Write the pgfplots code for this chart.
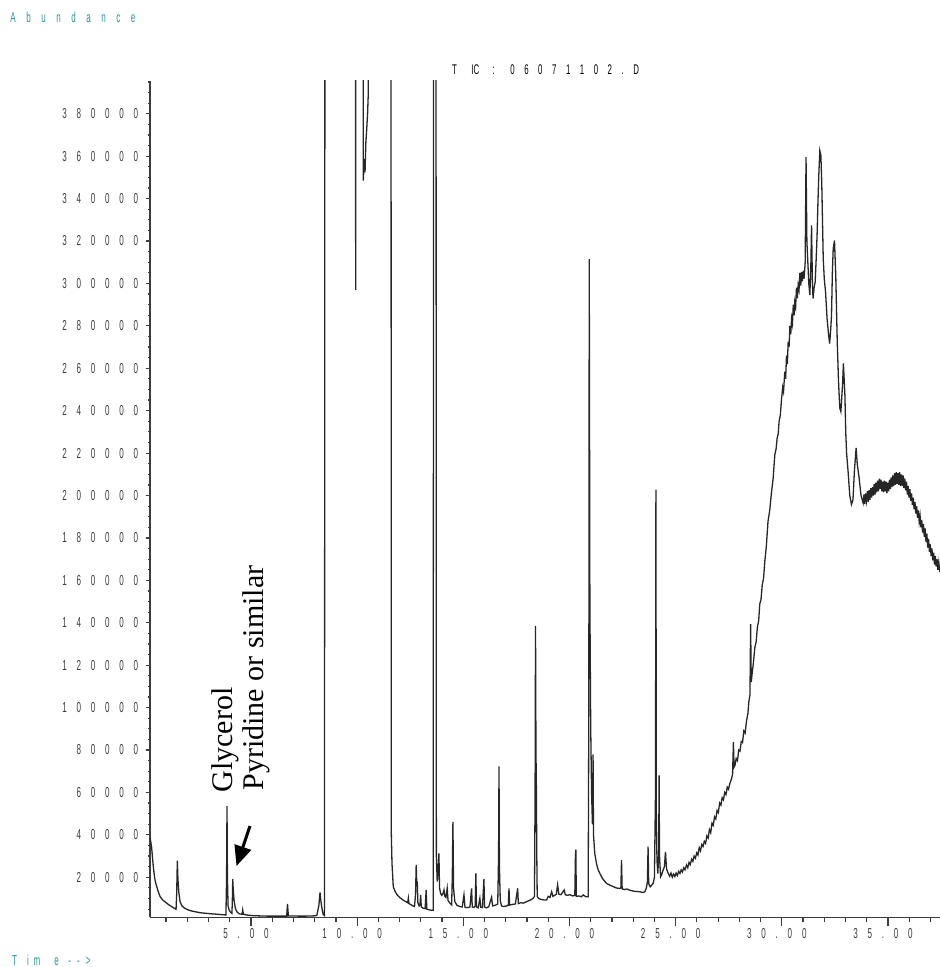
\documentclass[border=0pt]{standalone}
\usepackage{pgfplots}
\pgfplotsset{compat=1.18}
\usepackage{fontspec}
\setmainfont{Liberation Serif}
\newfontfamily\lblfont[FakeStretch=0.56]{Liberation Sans}
\usetikzlibrary{arrows.meta}
\definecolor{teal2}{RGB}{40,150,150}
\definecolor{tickgray}{RGB}{60,60,60}
\def\gapsize{4.9pt}
\makeatletter
\def\spaced#1{\spaced@first#1\relax}
\def\spaced@first#1{#1\spaced@rest}
\def\spaced@rest#1{\ifx\relax#1\else\hspace{\gapsize}#1\expandafter\spaced@rest\fi}
\makeatother
\pgfplotstableread{
t v
0.245 38800
0.28 36800
0.32 34000
0.36 29500
0.40 25000
0.44 21500
0.48 18700
0.52 17000
0.56 15600
0.64 13000
0.72 10900
0.85 9200
1.03 7800
1.15 6900
1.25 6300
1.34 5700
1.42 5200
1.47 4900
1.50 12000
1.53 27800
1.56 19000
1.60 13000
1.66 8500
1.75 6500
1.85 5600
1.97 4900
2.10 4400
2.30 3900
2.60 3300
2.90 3000
3.10 2800
3.38 2600
3.60 2400
3.82 2250
3.85 20000
3.87 53500
3.89 20000
3.92 6500
3.97 4500
4.05 3400
4.10 3000
4.12 8000
4.14 19200
4.16 15000
4.20 9300
4.26 5500
4.33 3800
4.42 3000
4.48 2700
4.58 2600
4.61 4600
4.64 2600
4.80 2200
5.11 1900
5.40 1800
5.74 1700
6.20 1700
6.68 1700
6.72 7400
6.76 1800
7.20 1700
7.60 1700
7.93 1800
8.10 2000
8.20 7000
8.25 12900
8.29 9000
8.33 6000
8.40 2500
8.46 2000
8.50 800000
9.90 800000
9.93 297000
9.96 800000
10.27 800000
10.29 348500
10.34 358700
10.37 352400
10.41 366500
10.45 372800
10.49 379800
10.52 388400
10.56 800000
11.58 800000
11.61 40000
11.64 26600
11.70 15600
11.78 13500
11.86 12000
12.00 10500
12.17 9200
12.30 8500
12.38 8000
12.41 10200
12.44 7600
12.55 7000
12.64 6400
12.70 6200
12.75 12000
12.78 25800
12.81 16000
12.83 18000
12.86 8000
12.92 6500
12.96 7000
12.99 11700
13.02 6000
13.10 5500
13.20 5200
13.25 14000
13.28 5000
13.40 4600
13.58 4400
13.62 800000
13.70 800000
13.73 30000
13.77 18000
13.82 25000
13.85 31300
13.88 15000
13.93 12400
13.98 11500
14.05 12500
14.09 14000
14.13 11000
14.18 10500
14.24 14800
14.28 9000
14.37 7800
14.45 7000
14.48 20000
14.51 46100
14.54 15000
14.60 8500
14.70 6800
14.84 6200
14.95 6000
15.03 11700
15.08 5800
15.20 5700
15.31 6000
15.39 14800
15.42 6000
15.50 5800
15.56 6500
15.59 21800
15.62 6000
15.70 5600
15.78 10100
15.82 5800
15.90 5700
15.97 19200
16.00 6000
16.10 5600
16.20 6200
16.33 10600
16.38 6500
16.50 6800
16.62 7400
16.66 30000
16.68 72300
16.70 25000
16.74 9000
16.80 6500
16.88 6200
17.00 6400
17.12 6800
17.15 14800
17.18 6900
17.30 7200
17.45 7400
17.56 14800
17.59 7600
17.70 8000
17.82 7800
17.98 8500
18.10 9000
18.20 9500
18.29 10100
18.35 11000
18.38 60000
18.40 138500
18.42 80000
18.44 62500
18.46 30000
18.48 10900
18.55 10000
18.65 9600
18.80 9300
18.92 9300
19.00 11000
19.08 10500
19.16 13200
19.22 11000
19.30 11500
19.38 12000
19.44 16400
19.50 12000
19.60 11800
19.75 14000
19.80 11800
19.90 11500
20.02 11800
20.15 11200
20.25 11500
20.28 30000
20.30 33000
20.32 11000
20.45 11200
20.55 10800
20.65 11700
20.75 10900
20.88 10800
20.91 100000
20.93 311500
20.96 150000
21.00 90000
21.04 60000
21.08 45000
21.11 78000
21.13 40000
21.19 31300
21.27 26500
21.35 23500
21.43 21800
21.55 19500
21.65 18200
21.75 17100
21.90 16300
22.06 15600
22.20 15000
22.35 14700
22.42 15000
22.45 28100
22.48 14500
22.60 14200
22.70 14500
22.84 13900
23.00 13500
23.15 13300
23.31 13200
23.45 12800
23.55 13200
23.62 15000
23.67 18000
23.70 34400
23.73 17000
23.80 15500
23.94 17100
24.00 20000
24.05 60000
24.07 202800
24.09 50000
24.12 28100
24.16 21800
24.20 30000
24.22 68000
24.24 30000
24.29 20300
24.35 21500
24.41 23400
24.47 25000
24.52 32000
24.57 24000
24.65 21800
24.72 20500
24.78 22000
24.84 20000
24.90 21500
24.96 20300
25.02 22000
25.08 20800
25.14 22800
25.20 21800
25.26 23500
25.32 22500
25.38 24500
25.44 23500
25.51 25800
25.57 24500
25.63 27000
25.69 26000
25.75 28500
25.81 27500
25.87 30000
25.93 29000
25.99 31500
26.05 30500
26.11 34000
26.17 32500
26.23 35500
26.29 34500
26.35 37000
26.41 36000
26.47 39500
26.53 38500
26.59 42500
26.65 41000
26.71 45500
26.77 44500
26.83 48500
26.89 47500
26.95 51500
27.01 50500
27.07 55000
27.13 54000
27.19 57500
27.25 56500
27.31 60000
27.37 59000
27.43 62500
27.49 61500
27.55 64200
27.62 66000
27.68 68500
27.72 83700
27.75 72000
27.80 73000
27.85 76000
27.91 75000
27.97 80000
28.03 79500
28.09 84000
28.15 83500
28.21 89000
28.27 88000
28.34 94000
28.40 97000
28.45 103000
28.50 106000
28.53 139400
28.56 112000
28.60 116000
28.66 121000
28.73 128400
28.79 131000
28.85 138000
28.91 141000
28.96 148800
29.02 151000
29.08 158000
29.14 161000
29.20 169100
29.27 176000
29.35 187900
29.43 193000
29.51 201200
29.59 208000
29.67 219300
29.73 222000
29.78 227100
29.83 229000
29.87 234900
29.93 238000
29.99 245900
30.04 251000
30.08 249000
30.14 258400
30.18 255000
30.22 266000
30.26 262000
30.30 272500
30.34 270000
30.38 280000
30.42 276000
30.46 283500
30.50 281000
30.54 290000
30.58 285000
30.61 291300
30.65 289000
30.69 298000
30.73 293000
30.77 299200
30.81 297000
30.85 305000
30.89 299000
30.93 305400
30.97 301000
31.01 306000
31.05 302300
31.10 310000
31.14 359500
31.18 320000
31.21 313300
31.27 300000
31.32 294500
31.37 310000
31.40 327400
31.44 300000
31.47 292900
31.52 298000
31.57 300700
31.62 312000
31.66 322700
31.70 338000
31.74 350900
31.79 362600
31.84 360300
31.88 347700
31.95 311700
32.00 302000
32.06 296000
32.13 283500
32.20 276000
32.25 271700
32.30 278000
32.34 285000
32.38 305000
32.42 316400
32.48 320300
32.54 303900
32.61 272500
32.67 253700
32.73 241200
32.78 239600
32.86 252200
32.90 262300
32.97 247500
33.01 230000
33.05 220000
33.12 211400
33.20 200000
33.28 195800
33.35 198000
33.42 212000
33.50 222400
33.55 215000
33.64 208300
33.73 200000
33.83 196500
33.87 200500
33.91 196000
33.95 201000
33.99 197500
34.03 202000
34.07 197000
34.11 202500
34.15 198000
34.19 203500
34.23 199000
34.27 204000
34.31 200000
34.35 205500
34.39 200500
34.43 206000
34.47 201500
34.51 207000
34.55 202000
34.59 208000
34.63 203000
34.67 207500
34.71 202000
34.75 206500
34.79 201500
34.83 207000
34.87 202000
34.91 206500
34.95 201000
34.99 206000
35.03 202000
35.07 207500
35.11 203000
35.15 208500
35.19 204000
35.23 209500
35.27 204500
35.31 210500
35.35 205000
35.39 211000
35.43 205500
35.47 210500
35.51 205000
35.55 211000
35.59 204500
35.63 210000
35.67 204500
35.71 209500
35.75 203500
35.79 208000
35.83 202500
35.87 206500
35.91 200500
35.95 204500
35.99 199000
36.03 203000
36.07 197500
36.11 201000
36.15 195500
36.19 199000
36.23 193500
36.27 197000
36.31 191500
36.35 195000
36.39 189500
36.43 193000
36.47 187500
36.51 190500
36.55 185000
36.59 188500
36.63 182500
36.67 186500
36.71 180500
36.75 184500
36.79 178000
36.83 182000
36.87 175500
36.91 179500
36.95 173500
36.99 177000
37.03 171500
37.07 175000
37.11 169500
37.15 173000
37.19 167500
37.23 171500
37.27 166500
37.31 170000
37.35 165000
37.39 168500
37.44 164000
}\tic
\begin{document}
\begin{tikzpicture}[x=0.5pt,y=-0.5pt]
\useasboundingbox (0,0) rectangle (940,967);
% axis with data and y ticks
\begin{axis}[
  at={(75pt,-458.65pt)}, anchor=south west,
  scale only axis, width=395pt, height=418.15pt,
  xmin=0.2435, xmax=37.45, ymin=1130, ymax=395450,
  axis x line=bottom, axis y line=left,
  axis line style={-, draw=tickgray, line width=0.8pt},
  xtick=\empty,
  ytick={20000,40000,60000,80000,100000,120000,140000,160000,180000,200000,220000,240000,260000,280000,300000,320000,340000,360000,380000},
  yticklabels={\spaced{20000},\spaced{40000},\spaced{60000},\spaced{80000},\spaced{100000},\spaced{120000},\spaced{140000},\spaced{160000},\spaced{180000},\spaced{200000},\spaced{220000},\spaced{240000},\spaced{260000},\spaced{280000},\spaced{300000},\spaced{320000},\spaced{340000},\spaced{360000},\spaced{380000}},
  minor ytick={5000,10000,15000,25000,30000,35000,45000,50000,55000,65000,70000,75000,85000,90000,95000,105000,110000,115000,125000,130000,135000,145000,150000,155000,165000,170000,175000,185000,190000,195000,205000,210000,215000,225000,230000,235000,245000,250000,255000,265000,270000,275000,285000,290000,295000,305000,310000,315000,325000,330000,335000,345000,350000,355000,365000,370000,375000,385000,390000,395000},
  scaled y ticks=false,
  tick align=outside,
  major tick length=2.2pt, minor tick length=1.1pt,
  tick style={draw=tickgray, line width=0.6pt},
  yticklabel style={font=\lblfont\fontsize{7.2}{8}\selectfont, text=tickgray, inner sep=0pt, anchor=east, xshift=-3.5pt},
]
\addplot[black!85, line width=0.65pt] table[x=t,y=v] {\tic};
\end{axis}
% axis for x ticks
\begin{axis}[
  at={(75pt,-458.65pt)}, anchor=south west,
  scale only axis, width=395pt, height=418.15pt,
  xmin=0.2435, xmax=37.45, ymin=1130, ymax=395450,
  axis x line=bottom, axis y line=none,
  axis line style={-, draw=tickgray, line width=0.8pt},
  ytick=\empty,
  xtick={5,10,15,20,25,30,35},
  xticklabels={\spaced{5.00},\spaced{10.00},\spaced{15.00},\spaced{20.00},\spaced{25.00},\spaced{30.00},\spaced{35.00}},
  minor xtick={1,2,3,4,6,7,8,9,11,12,13,14,16,17,18,19,21,22,23,24,26,27,28,29,31,32,33,34,36,37},
  tick align=outside,
  major tick length=4.5pt, minor tick length=2.5pt,
  tick style={draw=tickgray, line width=0.6pt},
  xticklabel style={font=\lblfont\fontsize{7.2}{8}\selectfont, text=tickgray, inner sep=0pt, anchor=north, xshift=-2.5pt, yshift=-1pt},
]
\end{axis}
% texts
\node[anchor=base west, inner sep=0pt, text=teal2, font=\lblfont\fontsize{7.2}{8}\selectfont] at (10,23) {\def\gapsize{5.26pt}\spaced{Abundance}};
\begin{scope}[every node/.style={anchor=base west, inner sep=0pt, font=\lblfont\fontsize{7}{8}\selectfont}]
\node at (451.7,75) {T};
\node at (471,75) {IC};
\node at (492,75) {:};
\node at (510,75) {\def\gapsize{4.77pt}\spaced{06071102.D}};
\end{scope}
\begin{scope}[every node/.style={anchor=base west, inner sep=0pt, text=teal2, font=\lblfont\fontsize{7.2}{8}\selectfont}]
\node at (11.7,965) {T};
\node at (26.7,965) {\def\gapsize{2.4pt}\spaced{im}};
\node at (54,965) {e};
\node at (68,965) {\def\gapsize{3pt}\spaced{-->}};
\end{scope}
\node[rotate=90, anchor=base west, inner sep=0pt, font=\fontsize{15}{18}\selectfont] at (232,793) {Glycerol};
\node[rotate=90, anchor=base west, inner sep=0pt, font=\fontsize{15}{18}\selectfont] at (263,791) {Pyridine or similar};
\draw[line width=1.5pt, -{Triangle[length=10pt,width=8.5pt]}] (250,826) -- (236.5,866);
\end{tikzpicture}
\end{document}
